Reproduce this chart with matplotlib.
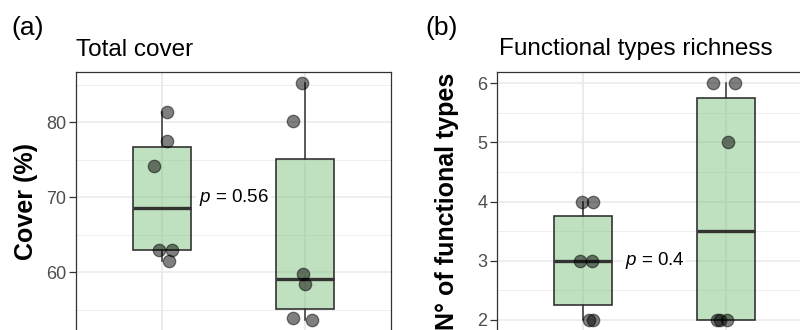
import matplotlib
matplotlib.use("Agg")
import matplotlib.pyplot as plt
from matplotlib.ticker import FixedLocator, NullFormatter

plt.rcParams['font.family'] = ['Liberation Sans', 'DejaVu Sans']
plt.rcParams['mathtext.fontset'] = 'custom'
plt.rcParams['mathtext.it'] = 'Liberation Sans:italic'
plt.rcParams['mathtext.rm'] = 'Liberation Sans'

# ---- data ----
cover_g1 = [81.3, 77.5, 74.1, 62.9, 62.9, 61.5]
cover_g1_jit = [0.035, 0.037, -0.058, -0.021, 0.072, 0.051]
cover_g2 = [85.2, 80.2, 59.8, 58.4, 53.9, 53.6]
cover_g2_jit = [-0.023, -0.086, -0.012, 0.002, -0.082, 0.047]
cover_ticks = [60, 70, 80]
cover_minor = [55, 65, 75, 85]
cover_p = "0.56"

rich_g1 = [4, 4, 3, 3, 2, 2]
rich_g1_jit = [-0.007, 0.069, -0.023, 0.065, 0.042, 0.069]
rich_g2 = [6, 6, 5, 2, 2, 2]
rich_g2_jit = [-0.088, 0.062, 0.011, -0.065, -0.042, 0.004]
rich_ticks = [2, 3, 4, 5, 6]
rich_minor = [1.5, 2.5, 3.5, 4.5, 5.5]
rich_p = "0.4"

W, H = 800, 330
fig = plt.figure(figsize=(8, 3.3), dpi=100)

def px_rect(left, top, width, bottom):
    return [left / W, 1 - bottom / H, width / W, (bottom - top) / H]

box_fill = (0.51, 0.77, 0.51, 0.5)
edge = '#333333'

def panel(rect, groups, jits, ylim, major, minor, pval, pypos):
    ax = fig.add_axes(rect)
    ax.set_xlim(0.4, 2.6)
    ax.set_ylim(*ylim)
    ax.yaxis.set_major_locator(FixedLocator(major))
    ax.yaxis.set_minor_locator(FixedLocator(minor))
    ax.yaxis.set_minor_formatter(NullFormatter())
    ax.set_xticks([1, 2])
    ax.tick_params(axis='x', length=0, labelbottom=False)
    ax.grid(True, which='major', color='#ebebeb', lw=1.2, zorder=0)
    ax.grid(True, which='minor', axis='y', color='#ebebeb', lw=0.6, zorder=0)
    ax.set_axisbelow(True)
    for s in ax.spines.values():
        s.set_color('#333333')
        s.set_linewidth(0.9)
    ax.tick_params(axis='y', which='major', labelsize=13, labelcolor='#4d4d4d',
                   color='#333333', length=5, width=0.9, pad=2)
    ax.tick_params(axis='y', which='minor', length=0)
    ax.boxplot(groups, positions=[1, 2], widths=0.4, patch_artist=True,
               showfliers=False, whis=1.5,
               boxprops=dict(facecolor=box_fill, edgecolor=edge, lw=1.2),
               whiskerprops=dict(color=edge, lw=1.1),
               capprops=dict(lw=0),
               medianprops=dict(color=edge, lw=2.4),
               zorder=2)
    for i, (vals, jit) in enumerate(zip(groups, jits)):
        xs = [i + 1 + j for j in jit]
        ax.scatter(xs, vals, s=80, facecolor=(0, 0, 0, 0.5),
                   edgecolor=(0, 0, 0, 0.5), lw=0.9, zorder=3)
    ax.text(1.5, pypos, r"$p$ = " + pval, ha='center', va='center', fontsize=13.5,
            color='black', zorder=4,
            bbox=dict(facecolor='white', edgecolor='none', pad=1.5))
    return ax

axa = panel(px_rect(76, 72, 315, 360), [cover_g1, cover_g2],
            [cover_g1_jit, cover_g2_jit], (48.27, 86.67),
            cover_ticks, cover_minor, cover_p, 70)
axb = panel(px_rect(497, 72, 315, 360), [rich_g1, rich_g2],
            [rich_g1_jit, rich_g2_jit], (1.324, 6.191),
            rich_ticks, rich_minor, rich_p, 3)

fig.text(76 / W, 1 - 56 / H, "Total cover", fontsize=17.5, ha='left', va='baseline')
fig.text(499 / W, 1 - 55 / H, "Functional types richness", fontsize=17.5,
         ha='left', va='baseline')
fig.text(11 / W, 1 - 35 / H, "(a)", fontsize=19, ha='left', va='baseline')
fig.text(425 / W, 1 - 35 / H, "(b)", fontsize=19, ha='left', va='baseline')
fig.text(26 / W, 1 - 201.5 / H, "Cover (%)", fontsize=18, fontweight='bold',
         rotation=90, ha='center', va='center')
fig.text(447 / W, 1 - 73 / H, "N° of functional types", fontsize=18,
         fontweight='bold', rotation=90, ha='center', va='top')

fig.savefig("out.png", dpi=100)
